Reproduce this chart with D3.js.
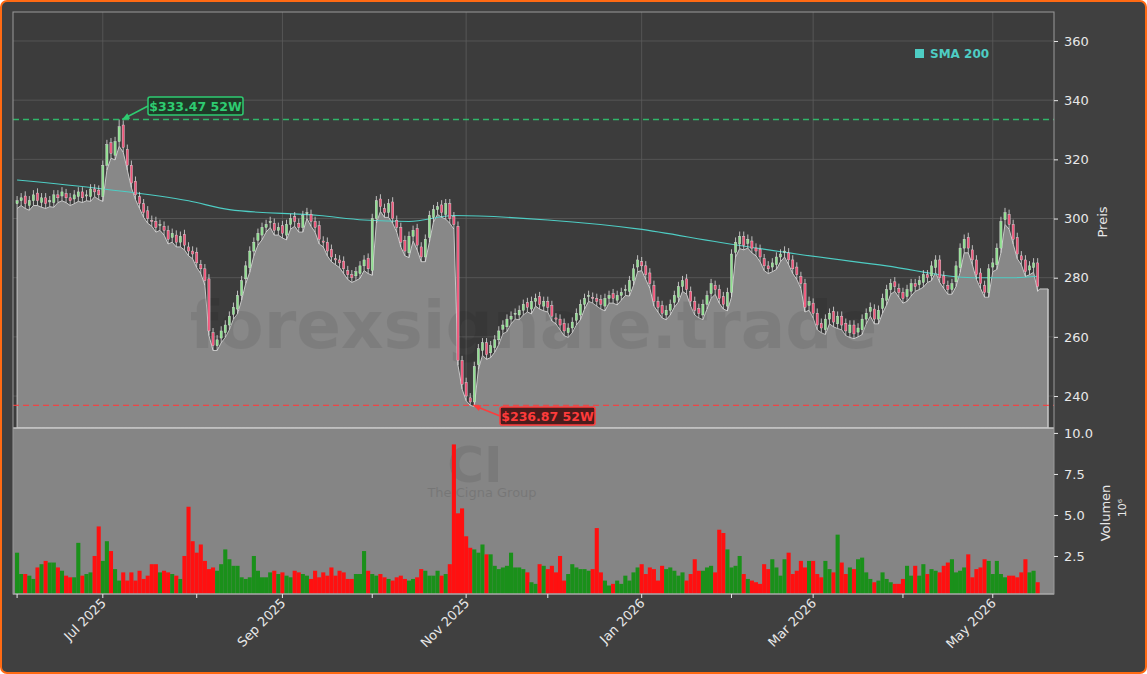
<!DOCTYPE html>
<html>
<head>
<meta charset="utf-8">
<script src="https://cdn.jsdelivr.net/npm/d3@7"></script>
<style>
  body { margin: 0; background: #fff; }
  svg { display: block; font-family: "DejaVu Sans", sans-serif; }
</style>
</head>
<body>
<div id="chart"></div>
<script>
// Daily closes, one per trading day (Jun 2025 – May 2026)
const closes = [
  306,307,305,306,308,306,307,305,306,308,307,309,307,306,308,309,307,308,310,309,308,
  318,325,322,326,331,324,318,312,308,305,302,300,299,297,298,296,293,295,292,294,291,289,
  288,285,283,279,262,257,259,262,264,267,270,274,279,284,289,292,295,297,298,299,296,
  297,295,298,300,299,297,301,302,299,297,293,292,289,287,286,285,283,281,280,282,284,
  286,283,300,306,304,302,305,300,297,292,289,294,296,291,287,293,301,303,304,302,305,300,298,
  252,244,240,238,250,256,258,254,257,259,262,264,266,267,268,269,271,270,272,
  273,271,272,270,267,266,264,262,263,265,268,271,273,274,273,272,271,273,274,273,274,275,
  276,279,283,286,284,281,278,272,270,268,269,271,274,277,279,276,272,269,268,271,
  274,278,276,273,271,275,288,292,294,291,293,290,289,287,284,283,285,287,288,
  289,286,283,281,278,270,272,268,264,263,266,268,265,267,264,262,264,261,263,266,268,270,
  266,269,273,276,278,277,275,273,276,278,277,279,281,280,284,286,280,278,276,278,284,
  290,293,290,286,281,278,275,283,285,290,299,302,298,293,288,286,282,284,285,277
];
// Daily volume in millions
const volumes = [
  2.7,1.4,1.4,1.3,1.1,1.8,2.0,2.2,2.1,2.1,1.8,1.6,1.3,1.2,1.2,3.3,1.3,1.4,1.5,2.5,4.3,
  2.2,3.4,2.8,1.7,1.0,1.5,1.0,1.5,1.0,1.6,1.1,1.3,2.0,2.0,1.5,1.6,1.5,1.4,1.3,1.1,2.5,5.5,
  3.4,2.7,3.2,2.2,1.7,1.8,1.6,2.0,2.9,2.3,1.9,1.9,1.2,1.1,1.2,2.5,1.6,1.2,1.2,1.5,1.6,1.4,1.5,
  1.3,1.2,1.6,1.5,1.4,1.3,1.1,1.6,1.2,1.5,1.3,1.8,1.3,1.6,1.5,1.1,1.1,1.4,1.4,2.8,1.6,
  1.4,1.3,1.4,1.2,1.1,1.0,1.2,1.3,1.1,1.0,1.1,1.2,1.7,1.6,1.3,1.3,1.6,1.3,1.4,2.0,9.3,5.1,5.4,
  3.7,3.0,2.9,2.7,3.2,2.6,2.6,1.9,1.7,1.8,1.9,2.7,1.8,1.8,1.7,1.5,0.9,0.8,2.0,1.9,
  1.7,1.9,1.5,2.5,1.0,1.4,2.0,1.8,1.7,1.7,1.6,1.7,4.2,1.5,1.0,0.7,0.8,1.0,0.8,1.3,1.0,1.5,
  1.8,2.0,1.4,1.8,1.7,1.0,1.9,1.7,1.8,1.6,1.3,1.5,1.0,1.4,2.3,1.6,1.6,1.8,1.9,1.5,
  4.1,3.9,2.9,1.8,1.9,2.5,1.4,1.1,1.0,0.9,0.8,2.0,1.7,2.3,1.8,1.3,2.3,2.7,1.4,
  1.6,2.2,1.8,2.2,2.2,1.4,1.2,2.2,1.7,1.5,3.8,2.1,1.4,1.8,1.7,2.3,2.4,1.5,1.1,0.9,1.0,1.5,
  1.1,0.9,0.8,0.8,1.1,1.9,1.3,1.9,1.3,2.0,1.4,1.7,1.6,1.5,1.9,2.1,2.3,1.5,1.6,1.8,2.6,
  1.2,1.7,1.8,2.3,2.2,1.4,2.2,1.4,1.2,1.3,1.3,1.2,1.5,2.3,1.5,1.6,0.9,1.2,1.4,1.0
];
// SMA 200 read at [trading-day index, value]
const sma200 = [
  [0,313],[21,310],[42,306],[52,303],[74,301],[85,299.5],[96,299],[107,301],
  [130,299.5],[152,296.5],[172,292],[191,288],[213,284],[234,280],[244,280],[250,280.5]
];
const yearHigh = 333.47, yearLow = 236.87;
const lastPrice = 276.2;
const priceTicks = [240, 260, 280, 300, 320, 340, 360];
const volTicks = [2.5, 5.0, 7.5, 10.0];
const monthLabels = ["Jul 2025", "Sep 2025", "Nov 2025", "Jan 2026", "Mar 2026", "May 2026"];

// trading days (weekdays) starting Jun 2 2025
const dates = [];
let d = new Date(2025, 5, 2);
while (dates.length < closes.length) {
  if (d.getDay() !== 0 && d.getDay() !== 6) dates.push(new Date(d));
  d.setDate(d.getDate() + 1);
}
const candles = closes.map((c, i) => {
  const o = i === 0 ? c - 1 : closes[i - 1] + (i % 3 - 1) * 0.6;
  return { i, o, c, h: Math.max(o, c) + 1.6, l: Math.min(o, c) - 1.6, v: volumes[i] };
});
const hiIdx = d3.maxIndex(closes), loIdx = d3.minIndex(closes);
candles[hiIdx].h = yearHigh;
candles[loIdx].l = yearLow;

const W = 1147, H = 674;
const L = 13, R = 1054, pTop = 12, pBot = 428, vBot = 594;

const svg = d3.select("#chart").append("svg").attr("width", W).attr("height", H);
svg.append("rect").attr("x", 1).attr("y", 1).attr("width", W - 2).attr("height", H - 2)
  .attr("rx", 6).attr("fill", "#404040").attr("stroke", "#ff6a13").attr("stroke-width", 2);

const x = d3.scaleLinear().domain([-1, closes.length + 3]).range([L, R]);
const y = d3.scaleLinear().domain([229.2, 369.8]).range([pBot, pTop]);
const yv = d3.scaleLinear().domain([0, 10.3]).range([597, pBot]);
const bw = (x(1) - x(0)) * 0.55;

svg.append("defs").append("clipPath").attr("id", "vclip")
  .append("rect").attr("x", L).attr("y", pBot).attr("width", R - L).attr("height", vBot - pBot);

// price panel
svg.append("rect").attr("x", L).attr("y", pTop).attr("width", R - L).attr("height", pBot - pTop)
  .attr("fill", "#3c3c3c");
const monthIdx = [];
dates.forEach((dt, i) => { if (i > 0 && dt.getMonth() !== dates[i - 1].getMonth()) monthIdx.push(i); });
const gridCol = "#5c5c5c";
priceTicks.forEach(t => svg.append("line").attr("x1", L).attr("x2", R).attr("y1", y(t)).attr("y2", y(t))
  .attr("stroke", gridCol).attr("stroke-width", 0.8));
monthIdx.filter((m, k) => k % 2 === 0).forEach(m => svg.append("line").attr("x1", x(m)).attr("x2", x(m))
  .attr("y1", pTop).attr("y2", pBot).attr("stroke", gridCol).attr("stroke-width", 0.8));

// grey area under lows
const areaPts = candles.map(c => [x(c.i), y(c.l)]);
areaPts.push([x(closes.length - 1) + 2, y(lastPrice)], [R - 6, y(lastPrice)]);
svg.append("path").datum(areaPts)
  .attr("d", d3.area().x(p => p[0]).y0(pBot).y1(p => p[1]))
  .attr("fill", "#888").attr("stroke", "#c8c8c8").attr("stroke-width", 1);
svg.append("line").attr("x1", R - 6).attr("x2", R - 6).attr("y1", y(lastPrice)).attr("y2", pBot)
  .attr("stroke", "#c8c8c8");

// watermark
svg.append("text").attr("x", (L + R) / 2).attr("y", 348).attr("text-anchor", "middle")
  .attr("font-size", 66).attr("font-weight", "bold").attr("fill", "#000").attr("opacity", 0.07)
  .text("forexsignale.trade");

// volume panel
svg.append("rect").attr("x", L).attr("y", pBot).attr("width", R - L).attr("height", vBot - pBot)
  .attr("fill", "#858585");
svg.append("text").attr("x", 475).attr("y", 482).attr("text-anchor", "middle").attr("font-size", 50)
  .attr("font-weight", "bold").attr("fill", "#000").attr("opacity", 0.08).text("CI");
svg.append("text").attr("x", 482).attr("y", 497).attr("text-anchor", "middle").attr("font-size", 13)
  .attr("fill", "#000").attr("opacity", 0.1).text("The Cigna Group");
svg.append("g").attr("clip-path", "url(#vclip)").selectAll("rect").data(candles).join("rect")
  .attr("x", c => x(c.i) - (x(1) - x(0)) / 2).attr("width", x(1) - x(0))
  .attr("y", c => yv(c.v)).attr("height", c => yv(0) - yv(c.v))
  .attr("fill", c => c.c >= c.o ? "#1a901a" : "#ff1010");
svg.append("line").attr("x1", L).attr("x2", R).attr("y1", pBot).attr("y2", pBot)
  .attr("stroke", "#c8c8c8").attr("stroke-width", 1.5);
svg.append("line").attr("x1", L).attr("x2", R).attr("y1", vBot).attr("y2", vBot)
  .attr("stroke", "#c8c8c8").attr("stroke-width", 1);

// SMA
svg.append("path").datum(sma200)
  .attr("d", d3.line().x(p => x(p[0])).y(p => y(p[1])).curve(d3.curveMonotoneX))
  .attr("fill", "none").attr("stroke", "#4ecdc4").attr("stroke-width", 1.1);

// candles
const cg = svg.append("g");
cg.selectAll("line").data(candles).join("line")
  .attr("x1", c => x(c.i)).attr("x2", c => x(c.i)).attr("y1", c => y(c.h)).attr("y2", c => y(c.l))
  .attr("stroke", "#e0e0e0").attr("stroke-width", 0.8);
cg.selectAll("rect").data(candles).join("rect")
  .attr("x", c => x(c.i) - bw / 2).attr("width", bw)
  .attr("y", c => y(Math.max(c.o, c.c))).attr("height", c => Math.max(1, Math.abs(y(c.o) - y(c.c))))
  .attr("fill", c => c.c >= c.o ? "#8fe08f" : "#f0557a").attr("stroke", "#e0e0e0").attr("stroke-width", 0.4);

// 52W lines and labels
function marker(val, col, idx, lx, ly, bg) {
  svg.append("line").attr("x1", L).attr("x2", R).attr("y1", y(val)).attr("y2", y(val))
    .attr("stroke", col).attr("stroke-width", 1.3).attr("stroke-dasharray", "6,4").attr("opacity", 0.85);
  svg.append("line").attr("x1", lx).attr("y1", ly).attr("x2", x(idx) + 3).attr("y2", y(val))
    .attr("stroke", col).attr("stroke-width", 1.5);
  const ang = Math.atan2(y(val) - ly, x(idx) + 3 - lx);
  const tx = x(idx) + 3, ty = y(val);
  svg.append("path").attr("d", `M${tx},${ty}L${tx - 8 * Math.cos(ang - 0.4)},${ty - 8 * Math.sin(ang - 0.4)}L${tx - 8 * Math.cos(ang + 0.4)},${ty - 8 * Math.sin(ang + 0.4)}Z`)
    .attr("fill", col);
  svg.append("rect").attr("x", lx).attr("y", ly - 9).attr("width", 95).attr("height", 18).attr("rx", 2)
    .attr("fill", bg).attr("stroke", col).attr("stroke-width", 1.5);
  svg.append("text").attr("x", lx + 47.5).attr("y", ly + 4.5).attr("text-anchor", "middle")
    .attr("font-size", 12.5).attr("font-weight", "bold").attr("fill", col).text(`$${val.toFixed(2)} 52W`);
}
marker(yearHigh, "#2ecc71", hiIdx, 148, 106, "#1f3a28");
marker(yearLow, "#ff3b3b", loIdx, 500, 416, "#4a1c1c");

// legend
svg.append("rect").attr("x", 915).attr("y", 49).attr("width", 9).attr("height", 9).attr("fill", "#4ecdc4");
svg.append("text").attr("x", 930).attr("y", 58).attr("font-size", 12).attr("font-weight", "bold")
  .attr("fill", "#4ecdc4").text("SMA 200");

// panel border
svg.append("rect").attr("x", L).attr("y", pTop).attr("width", R - L).attr("height", vBot - pTop)
  .attr("fill", "none").attr("stroke", "#9a9a9a").attr("stroke-width", 1);

// right axes
const axCol = "#e8e8e8";
const pAx = svg.append("g").attr("transform", `translate(${R},0)`)
  .call(d3.axisRight(y).tickValues(priceTicks).tickSize(4).tickPadding(6));
const vAx = svg.append("g").attr("transform", `translate(${R},0)`)
  .call(d3.axisRight(yv).tickValues(volTicks).tickSize(4).tickPadding(6).tickFormat(d3.format(".1f")));
[pAx, vAx].forEach(a => {
  a.select(".domain").remove();
  a.selectAll("line").attr("stroke", axCol);
  a.selectAll("text").attr("fill", axCol).attr("font-size", 13).attr("font-family", "DejaVu Sans");
});
svg.append("text").attr("transform", "translate(1107,222) rotate(-90)").attr("text-anchor", "middle")
  .attr("font-size", 13).attr("fill", axCol).text("Preis");
svg.append("text").attr("transform", "translate(1110,513) rotate(-90)").attr("text-anchor", "middle")
  .attr("font-size", 13).attr("fill", axCol).text("Volumen");
svg.append("text").attr("transform", "translate(1126,508) rotate(-90)").attr("text-anchor", "middle")
  .attr("font-size", 11).attr("fill", axCol).text("10⁶");

// bottom date axis
const xg = svg.append("g");
[0].concat(monthIdx).forEach(m => xg.append("line").attr("x1", x(m)).attr("x2", x(m))
  .attr("y1", vBot).attr("y2", vBot + 4).attr("stroke", axCol));
monthIdx.filter((m, k) => k % 2 === 0).forEach((m, k) => {
  xg.append("text").attr("transform", `translate(${x(m) + 4},${vBot + 10}) rotate(-45)`)
    .attr("text-anchor", "end").attr("font-size", 13).attr("fill", axCol).text(monthLabels[k]);
});
</script>
</body>
</html>
